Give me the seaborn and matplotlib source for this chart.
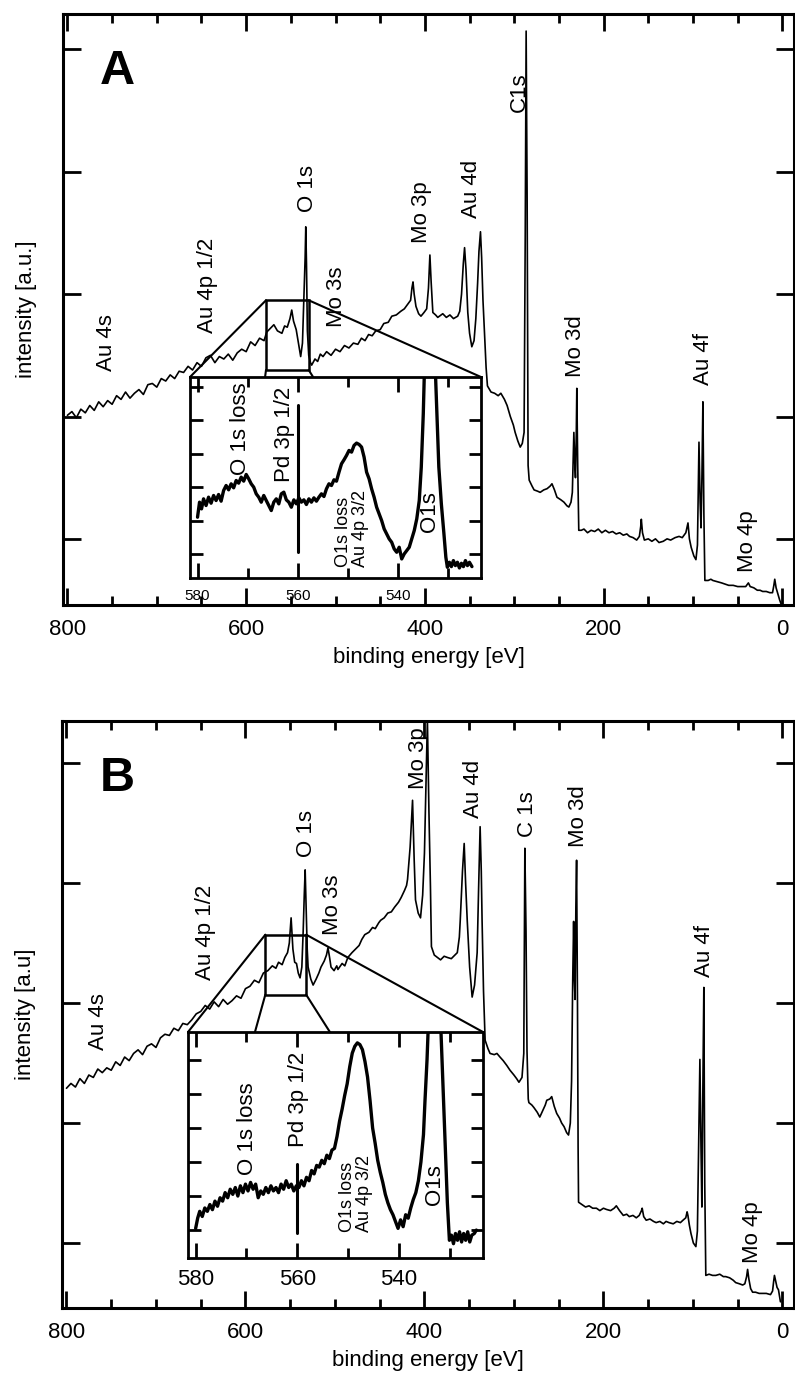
import matplotlib.pyplot as plt
import pandas as pd
import seaborn as sns
from matplotlib.patches import ConnectionPatch, Rectangle
from matplotlib.ticker import MultipleLocator, NullFormatter, NullLocator

# Survey spectra: (binding energy [eV], intensity [a.u.])
survey_a = [
    (800, 2.01), (795, 2.04), (790, 1.99), (785, 2.06), (780, 2.03), (775, 2.09),
    (770, 2.05), (765, 2.12), (760, 2.08), (755, 2.13), (750, 2.10), (745, 2.17),
    (740, 2.14), (735, 2.20), (730, 2.15), (725, 2.19), (720, 2.22), (715, 2.18),
    (710, 2.26), (705, 2.27), (700, 2.24), (695, 2.31), (690, 2.29), (685, 2.34),
    (680, 2.31), (675, 2.37), (670, 2.36), (665, 2.41), (660, 2.38), (655, 2.44),
    (650, 2.41), (645, 2.48), (640, 2.50), (635, 2.44), (630, 2.49), (625, 2.47),
    (620, 2.51), (615, 2.46), (610, 2.52), (605, 2.55), (600, 2.53), (595, 2.61),
    (590, 2.58), (585, 2.64), (580, 2.62), (577, 2.69), (573, 2.72), (569, 2.75),
    (565, 2.70), (560, 2.68), (557, 2.74), (554, 2.73), (551, 2.80), (549, 2.87),
    (547, 2.78), (544, 2.71), (541, 2.58), (539, 2.49), (537, 2.60), (535.5, 2.95),
    (534, 3.30), (533.3, 3.55), (532.5, 3.25), (531.5, 2.70), (530, 2.50), (528, 2.44),
    (526.7, 2.42), (523, 2.47), (520, 2.45), (517, 2.51), (514, 2.49), (510, 2.53),
    (505, 2.50), (500, 2.55), (495, 2.53), (490, 2.58), (485, 2.56), (480, 2.60),
    (475, 2.59), (471, 2.64), (467, 2.62), (463, 2.67), (459, 2.66), (455, 2.70),
    (450, 2.71), (446, 2.76), (441, 2.77), (437, 2.82), (432, 2.83), (427, 2.86),
    (423, 2.88), (419, 2.92), (416, 2.95), (414.5, 3.05), (413.3, 3.10), (412, 3.00),
    (410, 2.90), (407, 2.84), (404.4, 2.82), (401, 2.85), (398, 2.88), (396, 3.05),
    (394.4, 3.32), (393, 3.10), (391.1, 2.85), (388, 2.83), (385.6, 2.81), (380, 2.84),
    (376, 2.81), (372, 2.83), (368, 2.80), (363.3, 2.82), (361, 2.86), (359, 3.00),
    (357, 3.25), (355.6, 3.38), (354, 3.20), (352, 2.85), (350, 2.68), (347.5, 2.57),
    (345, 2.62), (343, 2.80), (341, 3.09), (339.5, 3.35), (337.8, 3.51), (336.5, 3.30),
    (335, 2.95), (333.3, 2.68), (331.5, 2.40), (330, 2.25), (326, 2.20), (322, 2.19),
    (318, 2.17), (315, 2.19), (311, 2.14), (308, 2.09), (304.4, 2.00), (301, 1.93),
    (299, 1.87), (296, 1.80), (293.3, 1.75), (291, 1.78), (289, 1.87), (287.7, 3.50),
    (286.7, 5.15), (285.6, 3.80), (284.5, 1.60), (283.3, 1.48), (280, 1.43), (277.8, 1.40),
    (274, 1.39), (271, 1.38), (267, 1.40), (263.3, 1.41), (260, 1.43), (257.8, 1.45),
    (255, 1.40), (252.2, 1.34), (248, 1.32), (244.4, 1.30), (241, 1.27), (238.9, 1.26),
    (236.5, 1.30), (235, 1.38), (233.3, 1.87), (232.2, 1.60), (231.5, 1.50), (230.6, 1.85),
    (230, 2.23), (229, 1.60), (227.8, 1.07), (225, 1.07), (222, 1.08), (218, 1.05),
    (214, 1.07), (210, 1.06), (206, 1.08), (202, 1.05), (198, 1.07), (194, 1.05),
    (190, 1.06), (186, 1.04), (182, 1.05), (178, 1.03), (174, 1.04), (171, 1.02),
    (167, 1.01), (163, 0.99), (160, 1.02), (158.5, 1.10), (157.8, 1.16), (156.5, 1.05),
    (154.4, 0.99), (150, 1.00), (146, 0.98), (142, 1.00), (138, 0.97), (133.3, 0.98),
    (129, 1.00), (125, 0.99), (120, 1.01), (115.6, 1.02), (112, 1.01), (108, 1.05),
    (106.5, 1.10), (105.6, 1.13), (104, 1.00), (102, 0.93), (99, 0.86), (96.7, 0.83),
    (95, 0.95), (93.3, 1.79), (92, 1.30), (91, 1.09), (90, 1.50), (88.9, 2.12),
    (87.8, 1.20), (86.7, 0.66), (83, 0.66), (80, 0.67), (77.8, 0.66), (73, 0.65),
    (68, 0.64), (64, 0.63), (60, 0.62), (55, 0.62), (50, 0.61), (45, 0.61),
    (41, 0.61), (38, 0.64), (36, 0.61), (32, 0.60), (28, 0.58), (25, 0.58),
    (22, 0.57), (18, 0.57), (14, 0.56), (11, 0.56), (9.5, 0.62), (8.5, 0.67),
    (7, 0.60), (5, 0.55), (3, 0.50), (1.5, 0.47),
]

survey_b = [
    (800, 2.29), (795, 2.33), (790, 2.30), (785, 2.37), (780, 2.33), (775, 2.40),
    (770, 2.38), (765, 2.45), (760, 2.42), (755, 2.46), (750, 2.44), (745, 2.51),
    (740, 2.48), (735, 2.55), (730, 2.52), (725, 2.58), (720, 2.61), (715, 2.57),
    (710, 2.64), (705, 2.66), (700, 2.63), (695, 2.71), (690, 2.74), (685, 2.73),
    (680, 2.79), (675, 2.77), (670, 2.83), (665, 2.82), (660, 2.86), (655, 2.91),
    (650, 2.93), (645, 2.98), (640, 2.95), (635, 3.01), (630, 2.97), (625, 3.03),
    (620, 2.99), (615, 3.02), (610, 3.06), (605, 3.04), (600, 3.12), (595, 3.14),
    (590, 3.19), (585, 3.17), (580, 3.25), (575, 3.27), (570, 3.31), (566, 3.29),
    (563, 3.34), (559, 3.32), (556, 3.38), (553, 3.42), (551, 3.50), (549, 3.71),
    (547, 3.45), (545, 3.34), (543, 3.33), (541, 3.25), (539, 3.21), (537, 3.30),
    (535.5, 3.60), (534.3, 3.90), (533.3, 4.11), (532.2, 3.80), (531, 3.45), (530, 3.30),
    (527, 3.20), (524.4, 3.15), (521, 3.20), (518, 3.25), (515.6, 3.30), (512, 3.35),
    (509.5, 3.40), (507.8, 3.46), (506, 3.38), (504.4, 3.30), (501, 3.27), (498, 3.31),
    (496.7, 3.28), (492, 3.33), (489, 3.31), (485.6, 3.38), (481, 3.42), (477, 3.45),
    (473, 3.48), (470, 3.53), (466.7, 3.57), (462, 3.59), (458, 3.63), (455, 3.62),
    (451, 3.67), (448.9, 3.69), (445, 3.71), (441, 3.75), (437, 3.76), (433.3, 3.80),
    (429, 3.84), (426, 3.88), (422.2, 3.94), (420, 3.98), (418.9, 4.03), (416, 4.30),
    (413.3, 4.69), (411.5, 4.20), (410, 3.86), (407, 3.75), (404.4, 3.71), (402, 3.90),
    (400, 4.25), (398, 4.90), (396.7, 5.36), (395, 4.60), (393.3, 3.97), (392.2, 3.47),
    (389, 3.40), (385.6, 3.38), (382, 3.36), (378, 3.39), (374.4, 3.38), (370, 3.37),
    (366, 3.40), (363.3, 3.42), (361, 3.55), (360, 3.69), (357.5, 4.10), (355.6, 4.33),
    (354, 4.00), (352.2, 3.69), (349.5, 3.30), (346.7, 3.05), (344, 3.15), (341.1, 3.42),
    (339.5, 3.95), (337.8, 4.47), (336.5, 4.10), (335.6, 3.69), (334, 3.10), (332.2, 2.69),
    (329, 2.62), (326.7, 2.58), (322, 2.57), (319, 2.58), (315.6, 2.55), (312, 2.52),
    (308, 2.48), (304.4, 2.44), (300, 2.40), (297, 2.37), (294.4, 2.34), (291, 2.38),
    (289, 2.58), (288.3, 3.50), (287.8, 4.29), (286.5, 3.60), (285.4, 2.60), (284, 2.20),
    (283.3, 2.17), (280, 2.15), (277.8, 2.13), (274, 2.09), (271.1, 2.05), (268, 2.10),
    (265, 2.15), (263.3, 2.19), (260, 2.20), (257.8, 2.22), (255, 2.14), (252.2, 2.08),
    (249, 2.04), (246.7, 2.00), (244, 1.97), (241.1, 1.92), (239, 1.90), (237, 2.00),
    (235.6, 2.35), (234.3, 3.20), (233.3, 3.68), (232.5, 3.20), (231.7, 3.03), (230.8, 3.80),
    (230, 4.19), (229, 3.00), (228.3, 1.80), (227.8, 1.34), (224, 1.32), (220, 1.30),
    (216, 1.31), (212, 1.29), (207.8, 1.29), (204, 1.27), (200, 1.29), (196.7, 1.28),
    (192, 1.27), (188, 1.29), (185.6, 1.31), (182, 1.27), (177.8, 1.23), (174, 1.24),
    (171.1, 1.22), (167, 1.23), (163.3, 1.21), (160, 1.23), (157.5, 1.27), (156.7, 1.29),
    (155, 1.22), (152.2, 1.19), (148, 1.20), (144, 1.18), (141.1, 1.17), (137, 1.18),
    (133, 1.16), (130, 1.18), (126.7, 1.17), (122, 1.16), (118, 1.18), (114, 1.17),
    (111.1, 1.19), (108, 1.21), (106.5, 1.26), (105.6, 1.23), (104, 1.15), (102.2, 1.08),
    (99.5, 1.00), (96.7, 0.97), (95, 1.10), (93.5, 1.90), (92.2, 2.53), (91, 1.80),
    (90, 1.30), (89, 2.20), (87.8, 3.13), (86.8, 1.50), (85.6, 0.73), (82, 0.74),
    (78, 0.73), (74.4, 0.73), (70, 0.74), (66, 0.72), (63.3, 0.72), (59, 0.71),
    (55, 0.69), (52.2, 0.67), (48, 0.66), (44.4, 0.65), (42, 0.66), (40, 0.72),
    (38.9, 0.78), (37.5, 0.70), (35.5, 0.62), (33.3, 0.59), (30, 0.59), (26, 0.58),
    (22.2, 0.58), (18, 0.58), (13.3, 0.57), (11, 0.60), (9.8, 0.68), (8.9, 0.73),
    (7.5, 0.68), (6, 0.63), (4.4, 0.61), (2.2, 0.51),
]

# Zoomed O 1s region (insets)
detail_a = [
    (580.0, 2.10), (579.6, 2.55), (579.2, 2.35), (578.8, 2.65), (578.3, 2.45), (577.8, 2.70),
    (577.3, 2.52), (576.8, 2.75), (576.3, 2.60), (575.8, 2.78), (575.3, 2.58), (574.8, 2.90),
    (574.3, 3.05), (573.8, 2.92), (573.3, 3.10), (572.8, 2.98), (572.3, 3.20), (571.8, 3.12),
    (571.3, 3.30), (570.8, 3.18), (570.3, 3.38), (569.8, 3.25), (569.3, 3.10), (568.8, 3.00),
    (568.3, 2.80), (567.8, 2.70), (567.3, 2.55), (566.8, 2.75), (566.3, 2.60), (565.8, 2.45),
    (565.3, 2.30), (564.8, 2.55), (564.3, 2.65), (563.8, 2.50), (563.3, 2.80), (562.8, 2.85),
    (562.3, 2.62), (561.8, 2.55), (561.3, 2.40), (560.8, 2.62), (560.3, 2.50), (559.8, 2.68),
    (559.3, 2.55), (558.8, 2.62), (558.3, 2.48), (557.8, 2.65), (557.3, 2.55), (556.8, 2.68),
    (556.3, 2.58), (555.8, 2.70), (555.3, 2.80), (554.8, 2.72), (554.3, 2.95), (553.8, 3.10),
    (553.3, 3.05), (552.8, 3.22), (552.3, 3.18), (551.8, 3.45), (551.3, 3.70), (550.8, 3.82),
    (550.3, 3.95), (549.8, 4.10), (549.3, 4.05), (548.8, 4.25), (548.3, 4.32), (547.8, 4.28),
    (547.3, 4.20), (546.8, 3.90), (546.3, 3.45), (545.8, 3.25), (545.3, 2.95), (544.8, 2.70),
    (544.3, 2.40), (543.8, 2.20), (543.3, 2.00), (542.8, 1.75), (542.3, 1.60), (541.8, 1.45),
    (541.3, 1.35), (540.8, 1.15), (540.3, 1.05), (539.8, 1.20), (539.3, 0.85), (538.8, 1.00),
    (538.3, 1.10), (537.8, 1.20), (537.3, 1.45), (536.8, 1.70), (536.3, 2.05), (535.8, 2.60),
    (535.4, 3.60), (535.0, 5.20), (534.6, 7.50), (534.0, 9.00), (533.3, 9.00), (532.8, 7.50),
    (532.5, 6.10), (531.9, 3.60), (531.4, 2.50), (530.9, 1.63), (530.5, 0.90), (530.2, 0.60),
    (529.8, 0.75), (529.4, 0.62), (529.0, 0.80), (528.6, 0.65), (528.2, 0.75), (527.8, 0.58),
    (527.4, 0.72), (527.0, 0.62), (526.6, 0.80), (526.2, 0.65), (525.8, 0.75), (525.3, 0.62),
]

detail_b = [
    (580.0, 1.05), (579.6, 1.35), (579.2, 1.55), (578.7, 1.40), (578.2, 1.65), (577.7, 1.55),
    (577.2, 1.75), (576.7, 1.60), (576.2, 1.85), (575.7, 1.70), (575.2, 1.95), (574.7, 1.85),
    (574.2, 2.10), (573.7, 1.95), (573.2, 2.20), (572.7, 2.05), (572.2, 2.25), (571.7, 2.00),
    (571.2, 2.30), (570.7, 2.10), (570.2, 2.35), (569.7, 2.15), (569.2, 2.40), (568.7, 2.20),
    (568.2, 2.35), (567.7, 1.95), (567.2, 2.15), (566.7, 2.05), (566.2, 2.25), (565.7, 2.10),
    (565.2, 2.30), (564.7, 2.15), (564.2, 2.25), (563.7, 2.10), (563.2, 2.35), (562.7, 2.20),
    (562.2, 2.45), (561.7, 2.25), (561.2, 2.35), (560.7, 2.15), (560.2, 2.30), (559.7, 2.25),
    (559.2, 2.45), (558.7, 2.30), (558.2, 2.55), (557.7, 2.45), (557.2, 2.75), (556.7, 2.65),
    (556.2, 2.90), (555.7, 2.85), (555.2, 3.05), (554.7, 2.95), (554.2, 3.20), (553.7, 3.10),
    (553.2, 3.35), (552.7, 3.40), (552.2, 3.75), (551.7, 4.20), (551.2, 4.55), (550.7, 4.95),
    (550.2, 5.30), (549.7, 5.80), (549.2, 6.20), (548.7, 6.40), (548.2, 6.50), (547.7, 6.45),
    (547.2, 6.30), (546.7, 5.95), (546.2, 5.50), (545.7, 4.80), (545.2, 4.00), (544.7, 3.55),
    (544.2, 3.05), (543.7, 2.70), (543.2, 2.40), (542.7, 2.05), (542.2, 1.80), (541.7, 1.60),
    (541.2, 1.45), (540.7, 1.25), (540.2, 1.05), (539.7, 1.30), (539.2, 1.10), (538.7, 1.45),
    (538.2, 1.35), (537.7, 1.65), (537.2, 1.90), (536.7, 2.10), (536.2, 2.45), (535.7, 3.00),
    (535.2, 3.80), (534.9, 4.80), (534.5, 6.00), (534.2, 7.20), (533.5, 9.00), (532.5, 9.00),
    (531.8, 7.00), (531.3, 5.00), (530.9, 3.40), (530.5, 1.80), (530.1, 0.70), (529.7, 0.85),
    (529.3, 0.60), (528.9, 0.90), (528.5, 0.70), (528.1, 0.95), (527.7, 0.65), (527.3, 0.90),
    (526.9, 0.70), (526.5, 0.95), (526.1, 0.65), (525.7, 0.85), (525.2, 0.90), (524.8, 1.00),
]

# Peak labels and where their lower end sits (energy, intensity)
peaks_a = ["Au 4s", "Au 4p 1/2", "O 1s", "Mo 3s", "Mo 3p", "Au 4d", "C1s", "Mo 3d", "Au 4f", "Mo 4p"]
peak_pos_a = [(756.7, 2.37), (643.3, 2.68), (531.1, 3.67), (498.9, 2.73), (403.3, 3.42),
              (347.8, 3.62), (294.4, 4.49), (231.1, 2.32), (87.8, 2.26), (38.9, 0.73)]
peaks_b = ["Au 4s", "Au 4p 1/2", "O 1s", "Mo 3s", "Mo 3p", "Au 4d", "C 1s", "Mo 3d", "Au 4f", "Mo 4p"]
peak_pos_b = [(764.4, 2.61), (644.4, 3.19), (532.2, 4.22), (503.3, 3.57), (406.7, 4.78),
              (345.6, 4.54), (284.4, 4.38), (227.8, 4.30), (86.7, 3.22), (33.3, 0.83)]

inset_labels = ["O 1s loss", "Pd 3p 1/2", "O1s loss\nAu 4p 3/2", "O1s"]
inset_label_size = [16, 16, 13, 16]
inset_pos_a = [(571.5, 3.37), (562.6, 3.16), (549.3, 0.61), (533.7, 1.66)]
inset_pos_b = [(569.8, 2.62), (559.8, 3.44), (548.4, 0.94), (533.1, 1.74)]
pd_line_a = (560, 1.06, 5.46)
pd_line_b = (560, 0.91, 2.95)

# zoom box in the survey: (E left, E right, I bottom, I top) and foot points on the inset top
box_a = (577.8, 530.0, 2.38, 2.95)
feet_a = (0.258, 0.423)
box_b = (577.8, 532.2, 3.07, 3.57)
feet_b = (0.227, 0.481)

sns.set_style("ticks")
plt.rcParams["font.family"] = ["Liberation Sans", "DejaVu Sans"]
plt.rcParams["text.color"] = "black"
plt.rcParams["axes.labelcolor"] = "black"
plt.rcParams["xtick.color"] = "black"
plt.rcParams["ytick.color"] = "black"
plt.rcParams["axes.edgecolor"] = "black"

fig = plt.figure(figsize=(7.95, 13.83), dpi=100)


def style_main(ax, ylim):
    ax.set_xlim(805, -13)
    ax.set_ylim(*ylim)
    ax.xaxis.set_major_locator(MultipleLocator(200))
    ax.xaxis.set_minor_locator(MultipleLocator(50))
    ax.set_yticks([1, 2, 3, 4, 5])
    ax.yaxis.set_major_formatter(NullFormatter())
    ax.yaxis.set_minor_locator(NullLocator())
    ax.tick_params(axis="x", which="major", direction="in", top=True, bottom=True,
                   length=12.5, width=2, labelsize=16, pad=10, color="black",
                   labelcolor="black")
    ax.tick_params(axis="x", which="minor", direction="in", top=True, bottom=True,
                   length=6.5, width=2, color="black")
    ax.tick_params(axis="y", which="major", direction="in", left=True, right=True,
                   length=13, width=2, color="black")
    for s in ax.spines.values():
        s.set_linewidth(2.2)
        s.set_color("black")
    ax.set_xlabel("binding energy [eV]", fontsize=16, labelpad=5, color="black")


def style_inset(ax, ylim, labelsize, pad):
    ax.set_xlim(581.5, 523.5)
    ax.set_ylim(*ylim)
    ax.xaxis.set_major_locator(MultipleLocator(20))
    ax.xaxis.set_minor_locator(MultipleLocator(10))
    ax.set_yticks([1, 2, 3, 4, 5, 6])
    ax.yaxis.set_major_formatter(NullFormatter())
    ax.yaxis.set_minor_locator(NullLocator())
    ax.tick_params(axis="x", which="major", direction="in", top=True, bottom=True,
                   length=11, width=2, labelsize=labelsize, pad=pad, color="black",
                   labelcolor="black")
    ax.tick_params(axis="x", which="minor", direction="in", top=True, bottom=True,
                   length=7, width=2, color="black")
    ax.tick_params(axis="y", which="major", direction="in", left=True, right=True,
                   length=9, width=2, color="black")
    for s in ax.spines.values():
        s.set_linewidth(2)
        s.set_color("black")
    ax.set_xlabel("")
    ax.set_ylabel("")


def draw_panel(rect, inset_rect, survey, detail, ylim, inset_ylim, ylabel, letter,
               peaks, peak_pos, inset_pos, pd_line, box, feet, inset_size, inset_pad):
    ax = fig.add_axes(rect)
    df = pd.DataFrame(survey, columns=["energy", "intensity"])
    sns.lineplot(data=df, x="energy", y="intensity", ax=ax, color="black",
                 linewidth=1.2, sort=False, estimator=None)
    style_main(ax, ylim)
    ax.set_ylabel(ylabel, fontsize=16, labelpad=15, color="black")
    ax.text(0.075, 0.902, letter, transform=ax.transAxes, fontsize=35,
            fontweight="bold", ha="center", va="center", color="black")
    for name, (e, i) in zip(peaks, peak_pos):
        ax.text(e, i, name, rotation=90, ha="center", va="bottom", fontsize=16,
                color="black")

    # zoom box and connectors
    e0, e1, i0, i1 = box
    ax.add_patch(Rectangle((e1, i0), e0 - e1, i1 - i0, fill=False,
                           edgecolor="black", linewidth=1.8, zorder=3))

    ins = fig.add_axes(inset_rect)
    ins.set_facecolor("white")
    dd = pd.DataFrame(detail, columns=["energy", "intensity"])
    sns.lineplot(data=dd, x="energy", y="intensity", ax=ins, color="black",
                 linewidth=2.4, sort=False, estimator=None)
    style_inset(ins, inset_ylim, inset_size, inset_pad)
    x, y0, y1 = pd_line
    ins.plot([x, x], [y0, y1], color="black", linewidth=2.2)
    for name, size, (e, i) in zip(inset_labels, inset_label_size, inset_pos):
        ins.text(e, i, name, rotation=90, ha="center", va="bottom", fontsize=size,
                 multialignment="left", linespacing=1.0, color="black")

    for (xa, ya), (xb, yb) in [((e0, i1), (0, 1)), ((e1, i1), (1, 1)),
                               ((e0, i0), (feet[0], 1)), ((e1, i0), (feet[1], 1))]:
        con = ConnectionPatch(xyA=(xa, ya), coordsA=ax.transData,
                              xyB=(xb, yb), coordsB=ins.transAxes,
                              color="black", linewidth=1.5)
        ax.add_artist(con)
    return ax, ins


draw_panel([0.0792, 0.5626, 0.9195, 0.4273], [0.239, 0.5821, 0.366, 0.1453],
           survey_a, detail_a, (0.46, 5.29), (0.28, 6.3), "intensity [a.u.]", "A",
           peaks_a, peak_pos_a, inset_pos_a, pd_line_a, box_a, feet_a, 11, 8)
draw_panel([0.0780, 0.0542, 0.9208, 0.4244], [0.2365, 0.0904, 0.371, 0.1634],
           survey_b, detail_b, (0.458, 5.35), (0.18, 6.82), "intensity [a.u]", "B",
           peaks_b, peak_pos_b, inset_pos_b, pd_line_b, box_b, feet_b, 16, 8)

fig.savefig("out.png", dpi=100)
